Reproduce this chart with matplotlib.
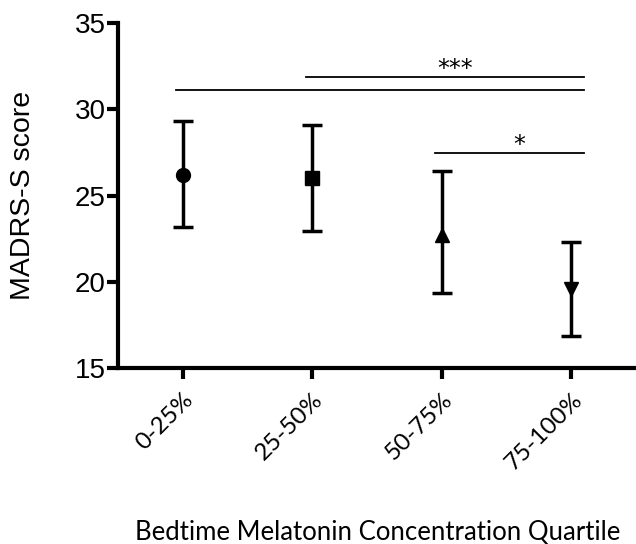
import matplotlib.pyplot as plt

# quartile groups and MADRS-S means with error bar limits
groups = ['0-25%', '25-50%', '50-75%', '75-100%']
means = [26.2, 26.0, 22.7, 19.6]
upper = [29.3, 29.1, 26.4, 22.3]
lower = [23.15, 22.95, 19.35, 16.85]
markers = ['o', 's', '^', 'v']

# significance brackets: (start group, end group, y, label)
sig_start = [1, 2, 3]
sig_end = [4, 4, 4]
sig_y = [31.1, 31.85, 27.45]
sig_text = ['', '***', '*']

fig = plt.figure(figsize=(6.36, 5.44), dpi=100)
ax = fig.add_axes([118 / 636, 1 - 368 / 544, 1 - 118 / 636, (368 - 23) / 544])

xs = list(range(1, len(groups) + 1))
for x, m, lo, hi, mk in zip(xs, means, lower, upper, markers):
    ax.errorbar([x], [m], yerr=[[m - lo], [hi - m]], fmt=mk, color='black',
                ms=10, elinewidth=2.5, capsize=7, capthick=2.5)

for s, e, y, t in zip(sig_start, sig_end, sig_y, sig_text):
    ax.plot([s - 0.05, e + 0.1], [y, y], color='black', lw=1.3)
    if t:
        ax.text((s + e) / 2 + 0.1, y - 0.2, t, ha='center', va='bottom',
                fontsize=17, family='DejaVu Sans')

ax.set_xlim(0.5, 4.5)
ax.set_ylim(15, 35)
ax.set_yticks([15, 20, 25, 30, 35])
ax.set_xticks(xs)
ax.set_xticklabels(groups, rotation=45, ha='right', rotation_mode='anchor',
                   fontsize=17.5, family='Lato')
for lab in ax.get_yticklabels():
    lab.set_family('Liberation Sans')
    lab.set_fontsize(20)

for side in ['top', 'right']:
    ax.spines[side].set_visible(False)
for side in ['left', 'bottom']:
    ax.spines[side].set_linewidth(3)
ax.tick_params(width=3, length=8, pad=1)
ax.tick_params(axis='x', pad=7)

ax.set_ylabel('MADRS-S score', fontsize=20.5, family='Liberation Sans', labelpad=28)
fig.text(135 / 636, 1 - 532 / 544, 'Bedtime Melatonin Concentration Quartile',
         ha='left', va='center', fontsize=18.5, family='Lato')

fig.savefig('out.png', dpi=100)
